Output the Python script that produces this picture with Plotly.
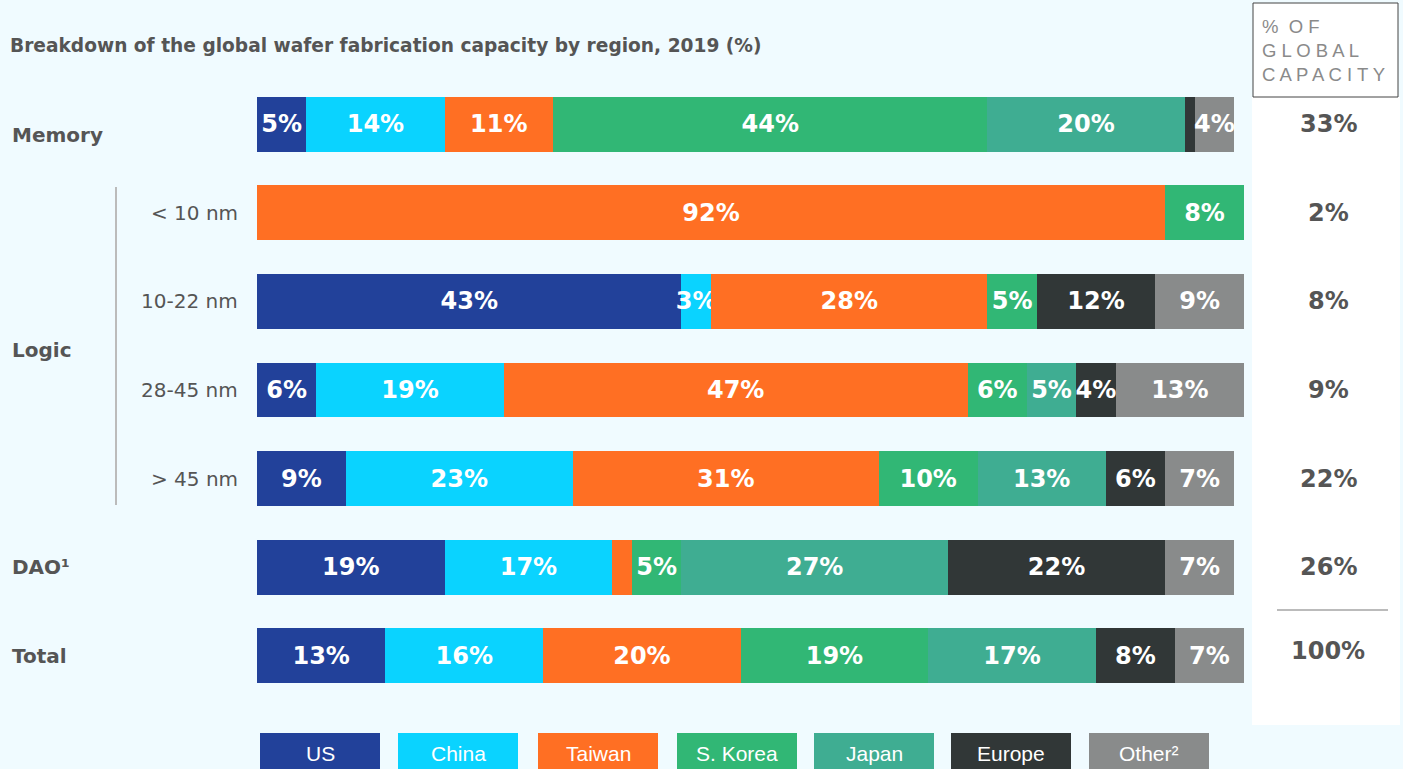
import plotly.graph_objects as go

# Rows of the chart (top to bottom) and the share of global capacity per row
rows = ["Memory", "< 10 nm", "10-22 nm", "28-45 nm", "> 45 nm", "DAO¹", "Total"]
global_share = ["33%", "2%", "8%", "9%", "22%", "26%", "100%"]

# Regional breakdown (%) per row
regions = ["US", "China", "Taiwan", "S. Korea", "Japan", "Europe", "Other²"]
us = [5, 0, 43, 6, 9, 19, 13]
china = [14, 0, 3, 19, 23, 17, 16]
taiwan = [11, 92, 28, 47, 31, 2, 20]
s_korea = [44, 8, 5, 6, 10, 5, 19]
japan = [20, 0, 0, 5, 13, 27, 17]
europe = [1, 0, 12, 4, 6, 22, 8]
other = [4, 0, 9, 13, 7, 7, 7]

series = [us, china, taiwan, s_korea, japan, europe, other]
colors = ["#22419A", "#0AD3FF", "#FF6F23", "#31B775", "#3FAD92", "#313737", "#898B8B"]

BG = "#F0FBFF"
TXT = "#555555"

# Plot area in pixels: x 257..1244, y 80..700
L, R, T, B = 257, 1244, 80, 700
W, H = 1403, 769


def xp(px):
    return (px - L) / (R - L)


def yp(py):
    return (B - py) / (B - T)


fig = go.Figure()
ypos = list(range(len(rows)))
for name, vals, col in zip(regions, series, colors):
    fig.add_trace(go.Bar(
        x=vals, y=ypos, orientation="h", name=name,
        marker=dict(color=col, line=dict(width=0)),
        text=[f"{v}%" if v >= 3 else "" for v in vals],
        textposition="inside", insidetextanchor="middle", textangle=0,
        constraintext="none",
        textfont=dict(family="DejaVu Sans", size=24, color="white", weight="bold"),
        hoverinfo="skip", showlegend=False,
    ))

shapes = []
annotations = []

# White side panel with the "% of global capacity" column
shapes.append(dict(type="rect", xref="paper", yref="paper",
                   x0=xp(1252), x1=xp(1400), y0=yp(725), y1=yp(97),
                   fillcolor="white", line=dict(width=0), layer="below"))
shapes.append(dict(type="rect", xref="paper", yref="paper",
                   x0=xp(1253), x1=xp(1398), y0=yp(97), y1=yp(3),
                   fillcolor="white", line=dict(color="#444444", width=1), layer="below"))
annotations.append(dict(xref="paper", yref="paper", x=xp(1260), y=yp(50),
                        xanchor="left", yanchor="middle", align="left", showarrow=False,
                        text="%  O F<br>G L O B A L<br>C A P A C I T Y",
                        font=dict(family="Liberation Sans", size=18.5, color="#8A8A8A")))
shapes.append(dict(type="line", xref="paper", yref="paper",
                   x0=xp(1277), x1=xp(1388), y0=yp(610), y1=yp(610),
                   line=dict(color="#BBBBBB", width=2)))
for i, s in enumerate(global_share):
    annotations.append(dict(xref="paper", yref="y", x=xp(1328), y=i - (0.05 if i == 6 else 0),
                            xanchor="center", yanchor="middle", showarrow=False, text=s,
                            font=dict(family="DejaVu Sans", size=24, color=TXT, weight="bold")))

# Title
annotations.append(dict(xref="paper", yref="paper", x=xp(8), y=yp(45),
                        xanchor="left", yanchor="middle", showarrow=False,
                        text="Breakdown of the global wafer fabrication capacity by region, 2019 (%)",
                        font=dict(family="DejaVu Sans", size=18.6, color=TXT, weight="bold")))

# Row group labels
groups = [("Memory", 0.12), ("Logic", 2.55), ("DAO¹", 5), ("Total", 6)]
for label, yv in groups:
    annotations.append(dict(xref="paper", yref="y", x=xp(10), y=yv,
                            xanchor="left", yanchor="middle", showarrow=False, text=label,
                            font=dict(family="DejaVu Sans", size=20, color=TXT, weight="bold")))

# Node-size sub labels for the logic rows
for i in range(1, 5):
    annotations.append(dict(xref="paper", yref="y", x=xp(240), y=i,
                            xanchor="right", yanchor="middle", showarrow=False, text=rows[i],
                            font=dict(family="DejaVu Sans", size=20, color=TXT)))
shapes.append(dict(type="line", xref="paper", yref="paper",
                   x0=xp(116), x1=xp(116), y0=yp(187), y1=yp(505),
                   line=dict(color="#BBBBBB", width=2)))

# Legend swatches along the bottom
legend_left = [260, 398, 538, 677, 814, 951, 1089]
for x0, name, col in zip(legend_left, regions, colors):
    shapes.append(dict(type="rect", xref="paper", yref="paper",
                       x0=xp(x0), x1=xp(x0 + 120), y0=yp(780), y1=yp(733),
                       fillcolor=col, line=dict(width=0)))
    annotations.append(dict(xref="paper", yref="paper", x=xp(x0 + 60), y=yp(753),
                            xanchor="center", yanchor="middle", showarrow=False, text=name,
                            font=dict(family="Liberation Sans", size=21, color="white")))

fig.update_layout(
    width=W, height=H,
    margin=dict(l=L, r=W - R, t=T, b=H - B, pad=0),
    paper_bgcolor=BG, plot_bgcolor=BG,
    barmode="stack", bargap=0.38,
    xaxis=dict(range=[0, 100], visible=False, fixedrange=True),
    yaxis=dict(range=[6.5, -0.5], visible=False, fixedrange=True),
    shapes=shapes, annotations=annotations,
    showlegend=False,
)

fig.write_html("out.html", config={"displayModeBar": False})
